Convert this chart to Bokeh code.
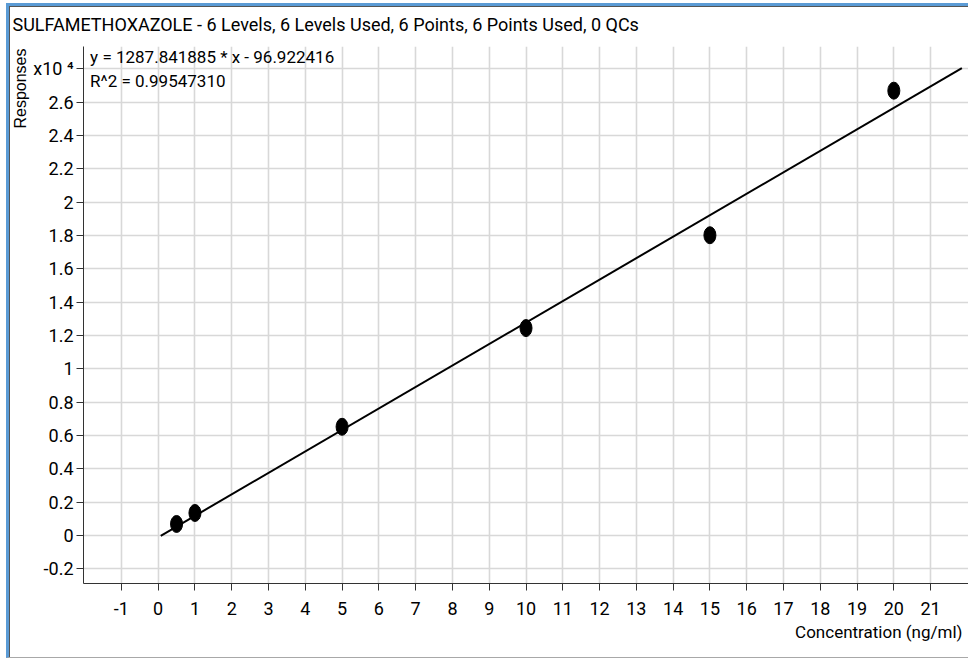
from bokeh.plotting import figure
from bokeh.models import (Range1d, FixedTicker, Title, Label, ColumnDataSource,
                          InlineStyleSheet)
from bokeh.embed import file_html
from bokeh.resources import INLINE

# ---- data ----
conc = [0.5, 1, 5, 10, 15, 20]
resp = [700, 1360, 6530, 12450, 18020, 26690]
slope = 1287.841885
intercept = -96.922416
r2 = 0.99547310
fit_x = [0.07, 21.85]
fit_y = [slope * x + intercept for x in fit_x]

x_ticks = list(range(-1, 22))
x_tick_labels = [str(v) for v in x_ticks]
y_ticks = [-2000, 0, 2000, 4000, 6000, 8000, 10000, 12000, 14000, 16000,
           18000, 20000, 22000, 24000, 26000, 28000]
y_tick_labels = ["-0.2", "0", "0.2", "0.4", "0.6", "0.8", "1", "1.2", "1.4",
                 "1.6", "1.8", "2", "2.2", "2.4", "2.6", "x10 \u2074"]

title_text = "SULFAMETHOXAZOLE - 6 Levels, 6 Levels Used, 6 Points, 6 Points Used, 0 QCs"
eq_text = "y = 1287.841885 * x  - 96.922416"
r2_text = "R^2 = 0.99547310"
x_label = "Concentration (ng/ml)"
y_label = "Responses"

NARROW = "Roboto"
REG = "Liberation Sans"

p = figure(width=968, height=659,
           x_range=Range1d(-2.03, 22.03), y_range=Range1d(-2870, 29340),
           output_backend="svg", toolbar_location=None,
           min_border_left=83, min_border_top=45, min_border_bottom=76,
           min_border_right=0)
p.outline_line_color = None
p.background_fill_color = "white"
p.border_fill_color = "white"

# window-frame decoration drawn over the figure edges (does not affect layout)
p.stylesheets = [InlineStyleSheet(css="""
:host { position: relative; }
:host::after {
  content: ""; position: absolute; left: 6px; top: 3px; right: 0px; bottom: 1px;
  border-left: 3px solid #5b9bd5; border-top: 3px solid #5b9bd5;
  border-bottom: 1px solid #a8a8a8; pointer-events: none; z-index: 10;
  box-shadow: inset 1px 1px 0 #555555;
}
""")]

p.title.text = title_text
p.title.text_font = NARROW
p.title.text_font_size = "18px"
p.title.text_font_style = "normal"
p.title.text_color = "black"
p.title.align = "left"
p.title.offset = -71
p.title.standoff = 23

# axes
for ax in (p.xaxis[0], p.yaxis[0]):
    ax.major_label_text_font = NARROW
    ax.major_label_text_font_size = "18px"
    ax.major_label_text_color = "black"
    ax.axis_line_color = "#333333"
    ax.major_tick_line_color = "#333333"
    ax.major_tick_in = 0
    ax.major_tick_out = 7
    ax.minor_tick_line_color = None

p.xaxis.ticker = FixedTicker(ticks=x_ticks)
p.yaxis.ticker = FixedTicker(ticks=y_ticks)
p.xaxis.major_label_overrides = {v: l for v, l in zip(x_ticks, x_tick_labels)}
p.yaxis.major_label_overrides = {v: l for v, l in zip(y_ticks, y_tick_labels)}
p.yaxis.major_label_standoff = 3
p.xaxis.major_label_standoff = 11

p.xgrid.ticker = FixedTicker(ticks=x_ticks)
p.ygrid.ticker = FixedTicker(ticks=y_ticks)
for g in (p.xgrid[0], p.ygrid[0]):
    g.grid_line_color = "#d8d8d8"
    g.grid_line_width = 1.6

p.add_layout(Title(text=y_label, align="right", text_font=REG,
                   text_font_size="16px", text_font_style="normal",
                   text_color="black", standoff=4, offset=2), "left")
p.add_layout(Title(text=x_label, align="right", text_font=NARROW,
                   text_font_size="17px", text_font_style="normal",
                   text_color="black", standoff=4, offset=6), "below")

# fit line and points
p.line(fit_x, fit_y, line_color="black", line_width=2)
src = ColumnDataSource(dict(x=conc, y=resp))
p.ellipse(x="x", y="y", width=12, height=17, width_units="screen",
          height_units="screen", source=src, fill_color="black",
          line_color="black")

p.add_layout(Label(x=-1.85, y=29300, text=eq_text, text_baseline="top",
                   text_font=NARROW, text_font_size="17px", text_color="black"))
p.add_layout(Label(x=-1.85, y=27850, text=r2_text, text_baseline="top",
                   text_font=NARROW, text_font_size="17px", text_color="black"))

open("out.html", "w").write(file_html(p, INLINE))
